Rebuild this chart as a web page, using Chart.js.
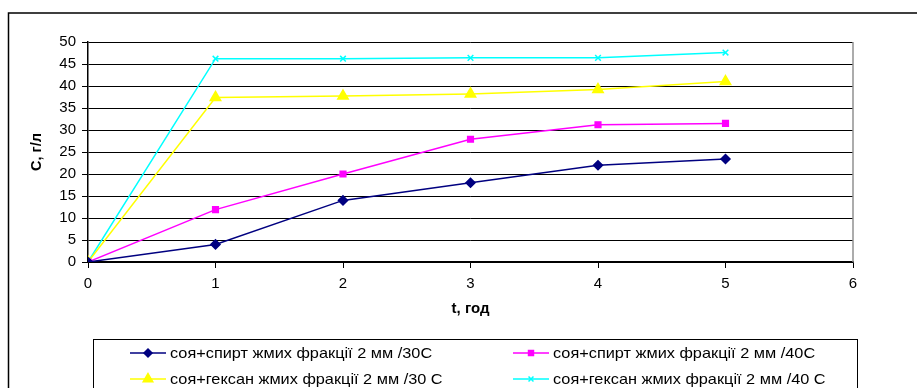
<!DOCTYPE html>
<html>
<head>
<meta charset="utf-8">
<script src="https://cdn.jsdelivr.net/npm/chart.js@4.4.1/dist/chart.umd.min.js"></script>
<style>
html,body{margin:0;padding:0;background:#fff;}
#c{display:block;}
</style>
</head>
<body>
<canvas id="c" width="917" height="388"></canvas>
<script>
// ---- data ----
const times = [0, 1, 2, 3, 4, 5];
const soyAlcohol30 = [0, 4, 14, 18, 22, 23.4];
const soyAlcohol40 = [0, 11.9, 20, 27.9, 31.2, 31.5];
const soyHexane30 = [0, 37.4, 37.7, 38.2, 39.2, 41];
const soyHexane40 = [0, 46.2, 46.2, 46.4, 46.4, 47.6];
const seriesLabels = [
  'соя+спирт жмих фракції 2 мм /30С',
  'соя+спирт жмих фракції 2 мм /40С',
  'соя+гексан жмих фракції 2 мм /30 С',
  'соя+гексан жмих фракції 2 мм /40 С'
];
const xTitle = 't, год';
const yTitle = 'С, г/л';

function pts(ys){ return times.map((t,i)=>({x:t,y:ys[i]})); }

const FONT = "'Liberation Sans', Arial, sans-serif";

const styles = [
  {color:'#000080', pointStyle:'rectRot', r:4.5},
  {color:'#FF00FF', pointStyle:'rect', r:4},
  {color:'#FFFF00', pointStyle:'triangle', r:6},
  {color:'#00FFFF', pointStyle:'crossRot', r:4}
];
const seriesData = [soyAlcohol30, soyAlcohol40, soyHexane30, soyHexane40];

const datasets = seriesData.map((d,i)=>({
  label: seriesLabels[i],
  data: pts(d),
  borderColor: styles[i].color,
  backgroundColor: styles[i].color,
  pointBackgroundColor: styles[i].color,
  pointBorderColor: styles[i].color,
  pointStyle: styles[i].pointStyle,
  pointRadius: styles[i].r,
  pointBorderWidth: 1.5,
  borderWidth: 1.5,
  tension: 0,
  showLine: true,
  fill: false
}));

const decor = {
  id: 'decor',
  beforeDraw(chart){
    const ctx = chart.ctx;
    ctx.save();
    ctx.fillStyle = '#fff';
    ctx.fillRect(0,0,chart.width,chart.height);
    ctx.restore();
  },
  afterDraw(chart){
    const ctx = chart.ctx;
    const ca = chart.chartArea;
    ctx.save();
    // plot right border
    ctx.strokeStyle = '#909090';
    ctx.lineWidth = 1.5;
    ctx.beginPath();
    ctx.moveTo(ca.right, ca.top);
    ctx.lineTo(ca.right, ca.bottom);
    ctx.stroke();
    // outer chart border (left & top visible, rest clipped)
    ctx.strokeStyle = '#000';
    ctx.lineWidth = 1.5;
    ctx.strokeRect(8.5, 13, chart.width + 20, chart.height + 20);
    // legend box
    ctx.lineWidth = 1;
    ctx.strokeRect(93.5, 339.5, 764, 60);
    // legend items
    const colX = [130, 513];
    const rowY = [353, 379];
    ctx.font = '15px ' + FONT;
    ctx.textBaseline = 'middle';
    ctx.textAlign = 'left';
    chart.data.datasets.forEach((ds,i)=>{
      const x = colX[i%2], y = rowY[Math.floor(i/2)];
      ctx.strokeStyle = ds.borderColor;
      ctx.lineWidth = 1.5;
      ctx.beginPath();
      ctx.moveTo(x, y); ctx.lineTo(x+36, y);
      ctx.stroke();
      ctx.fillStyle = ds.pointBackgroundColor;
      ctx.strokeStyle = ds.pointBorderColor;
      Chart.helpers.drawPoint(ctx, {
        pointStyle: ds.pointStyle, radius: ds.pointRadius - 0.5, borderWidth: 1.5, rotation: 0
      }, x+18, y);
      ctx.save();
      ctx.translate(x+40, y+1);
      ctx.scale(1.087, 1);
      ctx.fillStyle = '#000';
      ctx.fillText(ds.label, 0, 0);
      ctx.restore();
    });
    ctx.restore();
  }
};

new Chart(document.getElementById('c'), {
  type: 'scatter',
  data: { datasets },
  plugins: [decor],
  options: {
    responsive: false,
    animation: false,
    devicePixelRatio: 1,
    layout: { padding: { left: 0, top: 42, right: 64, bottom: 66 } },
    plugins: { legend: { display: false }, tooltip: { enabled: false } },
    scales: {
      x: {
        type: 'linear', min: 0, max: 6,
        afterFit(s){ s.height = 60; },
        ticks: { stepSize: 1, color: '#000', padding: 7, font: { family: FONT, size: 15 } },
        grid: { display: true, drawOnChartArea: false, drawTicks: true, tickLength: 6, color: '#000', lineWidth: 1 },
        border: { display: true, color: '#000', width: 1.5 },
        title: { display: true, text: xTitle, color: '#000', font: { family: FONT, size: 15, weight: 'bold' }, padding: { top: 0, bottom: 4.5 } }
      },
      y: {
        type: 'linear', min: 0, max: 50,
        afterFit(s){ s.width = 88; },
        ticks: { stepSize: 5, color: '#000', padding: 6, font: { family: FONT, size: 15 } },
        grid: { display: true, drawOnChartArea: true, drawTicks: true, tickLength: 6, color: '#000', lineWidth: 1 },
        border: { display: true, color: '#000', width: 1.5 },
        title: { display: true, text: yTitle, color: '#000', font: { family: FONT, size: 14.5, weight: 'bold' }, padding: { top: 28.5, bottom: 0 } }
      }
    }
  }
});
</script>
</body>
</html>
